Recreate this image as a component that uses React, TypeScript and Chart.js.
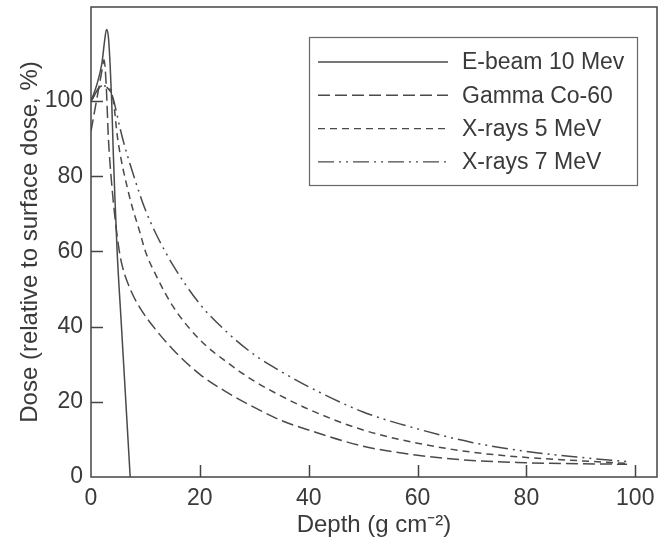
import React, { useEffect, useRef } from "react";
import { Chart, registerables } from "chart.js";

Chart.register(...registerables);

// ---- data ----
const seriesLabels = ["E-beam 10 Mev", "Gamma Co-60", "X-rays 5 MeV", "X-rays 7 MeV"];

const eBeamDepth = [0, 1, 2, 2.5, 2.85, 3.2, 3.5, 3.8, 4.1, 4.4, 4.8, 5.6, 6.4, 7.2];
const eBeamDose = [100, 104, 110, 116, 119, 117, 110, 100, 86, 74, 60, 40, 20, 0];

const gammaDepth = [0, 1, 2, 2.4, 2.8, 3.2, 3.8, 4.4, 5, 5.6, 7.2, 9, 12, 15, 20, 25, 30, 35, 40, 50, 60, 70, 80, 90, 98.5];
const gammaDose = [92, 100, 108, 111, 104, 90, 78, 69, 62, 57, 50, 45, 39, 34, 27.3, 22.5, 18.5, 15, 12.5, 8.2, 5.8, 4.4, 3.8, 3.5, 3.4];

const x5Depth = [0, 2, 3, 4.1, 4.9, 7, 9, 10, 12, 15, 20, 25, 30, 35, 40, 50, 60, 70, 80, 90, 98.5];
const x5Dose = [100, 104, 103.5, 100, 90, 75, 65, 60, 53.5, 45.5, 36.5, 30.5, 25.5, 21.5, 18, 12.5, 9, 6.6, 5.2, 4.3, 3.6];

const x7Depth = [0, 2, 3, 4, 5.3, 6, 9, 10, 12, 15, 20, 25, 30, 35, 40, 50, 60, 70, 80, 90, 98.5];
const x7Dose = [100, 104, 104, 101, 93, 89, 75, 71, 64.5, 56.5, 46, 38.5, 32.5, 28, 24, 17.3, 12.8, 9.2, 6.8, 5.2, 4.1];

const xTickValues = [0, 20, 40, 60, 80, 100];
const yTickValues = [0, 20, 40, 60, 80, 100];

const xTitle = "Depth (g cm\u207B\u00B2)";
const yTitle = "Dose (relative to surface dose, %)";

// ---- styles ----
const LINE = "#4a4a4a";
const TEXT = "#3a3a3a";
const FONT = "'Liberation Sans', Arial, sans-serif";
const dashes: number[][] = [[], [12, 5], [7, 5], [16, 5, 2, 5, 2, 5]];

function pts(xs: number[], ys: number[]) {
  return xs.map((x, i) => ({ x, y: ys[i] }));
}

const framePlugin = {
  id: "frameTicksLegend",
  afterDraw(chart: any) {
    const { ctx, chartArea } = chart;
    const { left, right, top, bottom } = chartArea;
    const xs = chart.scales.x;
    const ys = chart.scales.y;
    ctx.save();
    ctx.strokeStyle = "#444";
    ctx.lineWidth = 1.5;
    ctx.setLineDash([]);
    ctx.strokeRect(left, top, right - left, bottom - top);
    // inward ticks
    ctx.beginPath();
    xTickValues.forEach((v) => {
      if (v === 0) return;
      const p = Math.round(xs.getPixelForValue(v)) + 0.5;
      ctx.moveTo(p, bottom);
      ctx.lineTo(p, bottom - 12);
    });
    yTickValues.forEach((v) => {
      if (v === 0) return;
      const p = Math.round(ys.getPixelForValue(v)) + 0.5;
      ctx.moveTo(left, p);
      ctx.lineTo(left + 12, p);
    });
    ctx.stroke();

    // legend
    const bx = right - 348;
    const by = top + 30;
    const bw = 328;
    const bh = 148;
    ctx.fillStyle = "#fff";
    ctx.fillRect(bx, by, bw, bh);
    ctx.strokeStyle = "#666";
    ctx.lineWidth = 1.2;
    ctx.strokeRect(bx + 0.5, by + 0.5, bw, bh);
    ctx.font = `23px ${FONT}`;
    ctx.textBaseline = "middle";
    ctx.textAlign = "left";
    chart.data.datasets.forEach((ds: any, i: number) => {
      const cy = by + 25 + i * 33.3;
      ctx.strokeStyle = LINE;
      ctx.lineWidth = 1.4;
      ctx.setLineDash(dashes[i]);
      ctx.beginPath();
      ctx.moveTo(bx + 9, cy);
      ctx.lineTo(bx + 139, cy);
      ctx.stroke();
      ctx.setLineDash([]);
      ctx.fillStyle = TEXT;
      ctx.fillText(ds.label, bx + 153, cy + 1);
    });
    ctx.restore();
  },
};

export default function App() {
  const ref = useRef<HTMLCanvasElement | null>(null);
  useEffect(() => {
    if (!ref.current) return;
    const datasets = [
      pts(eBeamDepth, eBeamDose),
      pts(gammaDepth, gammaDose),
      pts(x5Depth, x5Dose),
      pts(x7Depth, x7Dose),
    ].map((data, i) => ({
      label: seriesLabels[i],
      data,
      borderColor: LINE,
      borderWidth: 1.5,
      borderDash: dashes[i],
      pointRadius: 0,
      fill: false,
      cubicInterpolationMode: "monotone" as const,
    }));
    const chart = new Chart(ref.current, {
      type: "line",
      data: { datasets },
      plugins: [framePlugin],
      options: {
        animation: false,
        responsive: true,
        maintainAspectRatio: false,
        layout: { padding: { top: 7, right: 2, left: 0, bottom: 0 } },
        plugins: { legend: { display: false }, tooltip: { enabled: false } },
        scales: {
          x: {
            type: "linear",
            min: 0,
            max: 104,
            afterBuildTicks: (s: any) => {
              s.ticks = xTickValues.map((value) => ({ value }));
            },
            afterFit: (s: any) => {
              s.height = 69;
              s.paddingLeft = 0;
              s.paddingRight = 0;
            },
            grid: { display: false, drawTicks: false },
            border: { display: false },
            ticks: {
              padding: 8,
              color: TEXT,
              font: { family: FONT, size: 23 },
              maxRotation: 0,
              autoSkip: false,
            },
            title: {
              display: true,
              text: xTitle,
              color: TEXT,
              font: { family: FONT, size: 24 },
              padding: { top: 0, bottom: 6 },
            },
          },
          y: {
            type: "linear",
            min: 0,
            max: 125,
            afterBuildTicks: (s: any) => {
              s.ticks = yTickValues.map((value) => ({ value }));
            },
            afterFit: (s: any) => {
              s.width = 91;
              s.paddingTop = 0;
              s.paddingBottom = 0;
            },
            grid: { display: false, drawTicks: false },
            border: { display: false },
            ticks: {
              padding: 8,
              color: TEXT,
              font: { family: FONT, size: 23 },
              autoSkip: false,
            },
            title: {
              display: true,
              text: yTitle,
              color: TEXT,
              font: { family: FONT, size: 24 },
              padding: { top: 16, bottom: 0 },
            },
          },
        },
      },
    });
    return () => chart.destroy();
  }, []);
  return (
    <div style={{ position: "absolute", left: 0, top: 0, width: 659, height: 546, background: "#fff" }}>
      <canvas ref={ref} />
    </div>
  );
}
